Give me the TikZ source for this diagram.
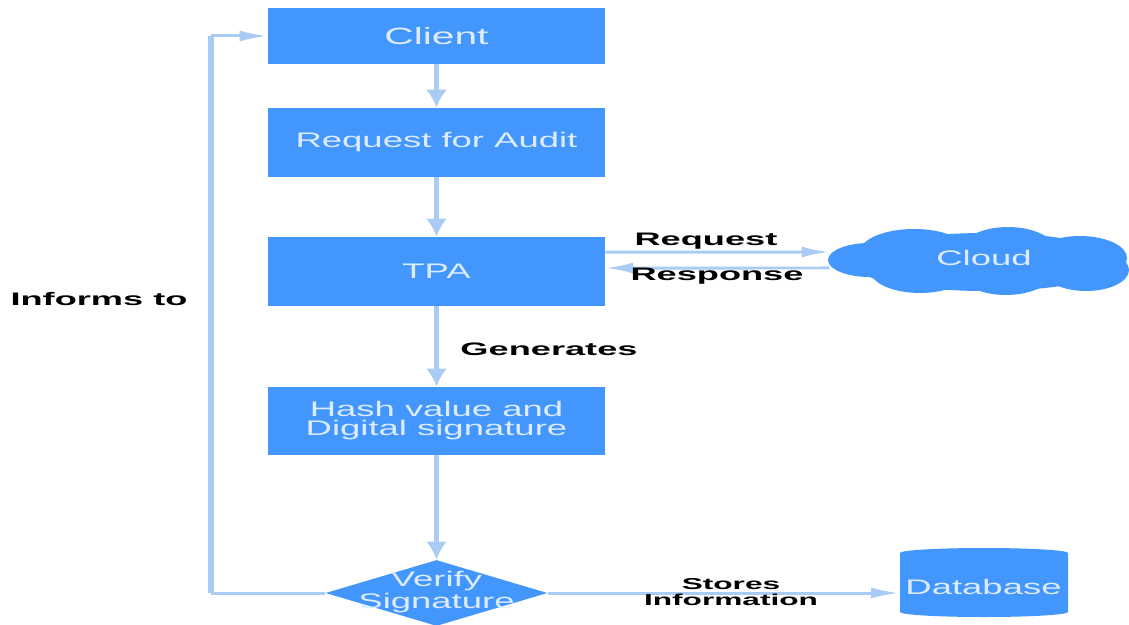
\documentclass[tikz,border=0pt]{standalone}
\usepackage{fontspec}
\usetikzlibrary{shapes.geometric, arrows.meta}
\newfontfamily\boxfont[FakeStretch=1.73]{Liberation Sans}
\newfontfamily\tagfont[FakeStretch=2.0]{Liberation Sans}
\definecolor{boxblue}{HTML}{4296FC}
\definecolor{linkblue}{HTML}{A9CBF4}
\definecolor{boxtext}{HTML}{DCEBFF}
\tikzset{
    stepbox/.style={fill=boxblue, text=boxtext, font=\boxfont\fontsize{12}{10.8}\selectfont, align=center, minimum width=6.74cm, inner sep=0pt},
    tag/.style={font=\tagfont\fontsize{10.3}{9.6}\selectfont\bfseries, align=center, text=black, inner sep=0pt},
    link/.style={-{Latex[length=.36cm, width=.42cm]}, draw=linkblue, line width=.11cm},
    thinlink/.style={-{Latex[length=.56cm, width=.22cm]}, draw=linkblue, line width=.06cm},
}
\begin{document}
\begin{tikzpicture}[x=.02cm, y=-.02cm]
    \useasboundingbox (0, 0) rectangle (1129, 625);
    %cloud and database are filled first, their text goes on top
    \foreach \cx/\cy/\rx/\ry in {870/260/42/17, 914/252/54/23, 1008/254/50/27, 1080/258/47/22, 920/270/50/23, 1006/268/50/27, 1086/270/43/21, 985/262/135/29}
        \fill[boxblue] (\cx, \cy) ellipse[x radius=\rx, y radius=\ry];
    \fill[boxblue] (900, 553) arc[start angle=180, end angle=360, x radius=84, y radius=5] -- (1068, 612) arc[start angle=0, end angle=180, x radius=84, y radius=5] -- cycle;

    %boxes down the middle
    \node[stepbox, minimum height=1.12cm, font=\boxfont\fontsize{13.4}{13}\selectfont] (client) at (436.5, 36){Client};
    \node[stepbox, minimum height=1.38cm] (request) at (436.5, 142.5){Request for Audit};
    \node[stepbox, minimum height=1.38cm] (tpa) at (436.5, 271.5){TPA};
    \node[stepbox, minimum height=1.36cm] (hash) at (436.5, 421){Hash value and\\Digital signature};
    \node[fill=boxblue, shape=diamond, aspect=3.36, minimum width=4.44cm, minimum height=1.32cm, inner sep=0pt] (verify) at (436.5, 593){};
    \node[stepbox, fill=none, minimum width=0pt] (verifytext) at (436.5, 592){Verify\\Signature};
    \node[stepbox, fill=none, minimum width=6.16cm, minimum height=1.3cm] (cloud) at (984, 258){Cloud};
    \node[stepbox, fill=none, minimum width=3.36cm, minimum height=1.2cm] (database) at (983.5, 587){Database};

    %arrows
    \draw[link] (client) -- (request);
    \draw[link] (request) -- (tpa);
    \draw[link] (tpa) -- (hash);
    \draw[link] (hash) -- (verify);
    \draw[thinlink] ([yshift=.39cm]tpa.east) -- ([yshift=.12cm]cloud.west);
    \draw[thinlink] ([yshift=-.2cm]cloud.west) -- ([yshift=.07cm]tpa.east);
    \draw[thinlink] (verify) -- (verify -| database.west);
    \coordinate (lowcorner) at (211, 593);
    \coordinate (highcorner) at (211, 36);
    \draw[draw=linkblue, line width=.06cm] (verify) -- (lowcorner);
    \draw[draw=linkblue, line width=.11cm] (lowcorner) -- (highcorner);
    \draw[thinlink] (highcorner) -- (client);

    %labels
    \node[tag] (informs) at (99, 299){Informs to};
    \node[tag] (requesttag) at (706, 241){Request};
    \node[tag] (responsetag) at (717, 276){Response};
    \node[tag] (generates) at (549, 349){Generates};
    \node[tag, font=\tagfont\fontsize{9}{8.6}\selectfont\bfseries] (stores) at (731, 592){Stores\\Information};
\end{tikzpicture}
\end{document}
